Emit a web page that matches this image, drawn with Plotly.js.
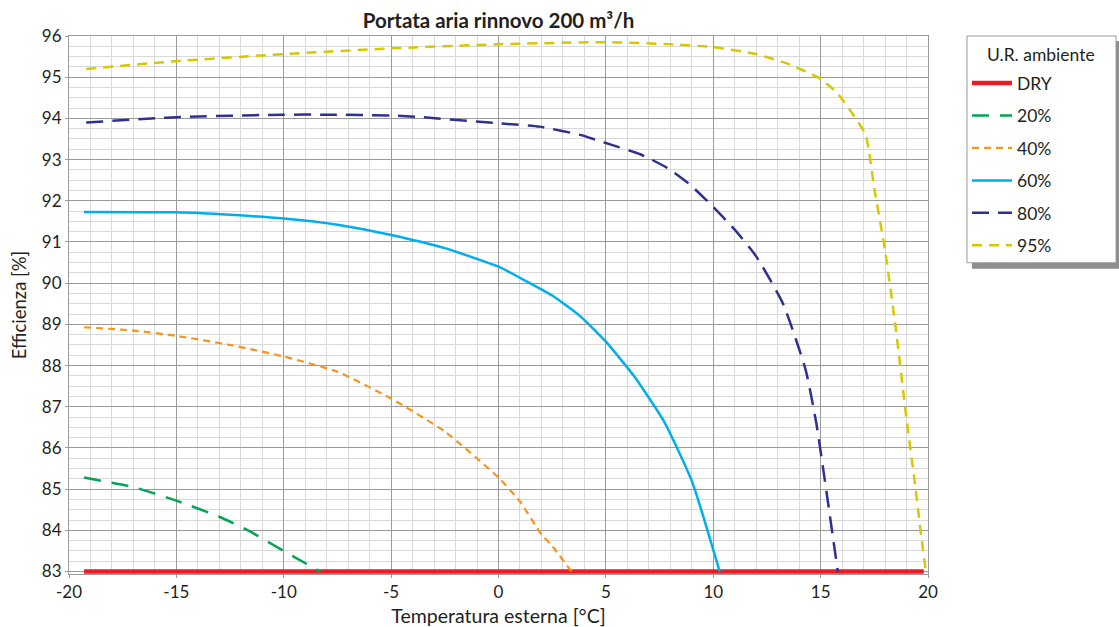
<!DOCTYPE html>
<html>
<head>
<meta charset="utf-8">
<script src="https://cdn.plot.ly/plotly-3.0.1.min.js"></script>
<style>html,body{margin:0;padding:0;background:#fff}#chart{width:1119px;height:627px}</style>
</head>
<body>
<div id="chart"></div>
<script>
// Data
const seriesNames = ["DRY", "20%", "40%", "60%", "80%", "95%"];
const legendTitle = "U.R. ambiente";

const dryX = [-19.3, 19.8];
const dryY = [83.0, 83.0];

const rh20X = [-19.3, -17, -15, -13, -11.6, -10.5, -9.5, -8.3];
const rh20Y = [85.28, 85.05, 84.72, 84.33, 83.98, 83.65, 83.35, 83.0];

const rh40X = [-19.3, -17, -15, -12.5, -10, -7.5, -5, -2.5, 0, 1, 2, 2.5, 3.4];
const rh40Y = [88.93, 88.85, 88.72, 88.5, 88.22, 87.85, 87.2, 86.4, 85.28, 84.7, 83.9, 83.62, 83.0];

const rh60X = [-19.3, -15, -12.5, -10, -7.5, -5, -2.5, 0, 1, 2.5, 3.8, 5, 6.3, 7.7, 9, 10.3];
const rh60Y = [91.73, 91.72, 91.66, 91.57, 91.42, 91.17, 90.85, 90.4, 90.13, 89.7, 89.2, 88.58, 87.75, 86.65, 85.2, 83.0];

const rh80X = [-19.2, -15, -10, -7.8, -5, -3.6, 0, 1.9, 3.8, 5.2, 6.6, 7.85, 8.9, 10, 11, 12, 13.25, 14.3, 14.8, 15.2, 15.8];
const rh80Y = [93.9, 94.03, 94.09, 94.09, 94.07, 94.03, 93.88, 93.8, 93.6, 93.37, 93.13, 92.8, 92.4, 91.85, 91.3, 90.65, 89.5, 87.9, 86.6, 85.2, 83.0];

const rh95X = [-19.2, -15, -10, -5, 0, 5, 8, 10, 12, 13.5, 15, 15.8, 16.5, 17.1, 17.5, 18, 18.5, 19, 19.4, 19.7, 19.9];
const rh95Y = [95.2, 95.39, 95.56, 95.7, 95.8, 95.85, 95.8, 95.73, 95.56, 95.32, 94.96, 94.6, 94.1, 93.6, 92.3, 90.8, 88.9, 86.7, 85.1, 83.8, 83.0];

const xTickVals = [-20, -15, -10, -5, 0, 5, 10, 15, 20];
const yTickVals = [83, 84, 85, 86, 87, 88, 89, 90, 91, 92, 93, 94, 95, 96];

const FONT = "Lato, 'Noto Sans', sans-serif";
const TXT = "#231f20";

function tr(x, y, name, color, dash, width) {
  return {
    x: x, y: y, name: name, legendgroup: name, type: "scatter", mode: "lines",
    line: {color: color, dash: dash, width: width, shape: "spline", smoothing: 0.5},
    cliponaxis: false
  };
}

const traces = [
  tr(dryX, dryY, seriesNames[0], "#ed1c24", "solid", 4.5),
  tr(rh20X, rh20Y, seriesNames[1], "#00a651", "17px,11px", 2.5),
  tr(rh40X, rh40Y, seriesNames[2], "#f7941d", "7px,5px", 2.2),
  tr(rh60X, rh60Y, seriesNames[3], "#00aeef", "solid", 2.5),
  tr(rh80X, rh80Y, seriesNames[4], "#2e3192", "17px,9px", 2.5),
  tr(rh95X, rh95Y, seriesNames[5], "#d7c800", "10px,7px", 2.5)
];

const layout = {
  width: 1119, height: 627,
  margin: {l: 69, r: 191, t: 36, b: 52.5},
  paper_bgcolor: "#ffffff", plot_bgcolor: "#ffffff",
  font: {family: FONT, color: TXT, size: 16},
  title: {text: "<b>Portata aria rinnovo 200 m³/h</b>", font: {family: FONT, size: 20.5, color: TXT},
          x: 0.4455, xanchor: "center", y: 0.966, yanchor: "middle"},
  showlegend: true,
  legend: {
    x: 1.0454, xanchor: "left", y: 0.9458, yanchor: "top",
    bgcolor: "rgba(0,0,0,0)", borderwidth: 0,
    font: {size: 17.5, family: FONT, color: TXT},
    tracegroupgap: 6.7,
    itemwidth: 40
  },
  annotations: [
    {text: legendTitle, xref: "paper", yref: "paper", x: 1.1321, y: 0.9647,
     xanchor: "center", yanchor: "middle", showarrow: false,
     font: {size: 17.5, family: FONT, color: TXT}}
  ],
  xaxis: {
    range: [-20, 20], tickvals: xTickVals, ticktext: xTickVals.map(String),
    showgrid: true, gridcolor: "#9a9a9a", gridwidth: 1,
    minor: {dtick: 1, showgrid: true, gridcolor: "#d9d9d9", gridwidth: 1, ticks: ""},
    showline: true, linecolor: "#9a9a9a", linewidth: 1, mirror: true,
    ticks: "outside", ticklen: 3, tickcolor: "#9a9a9a",
    zeroline: false, tickfont: {size: 17, family: FONT, color: TXT},
    title: {text: "Temperatura esterna [°C]", font: {size: 19.5, family: FONT, color: TXT}, standoff: 8}
  },
  yaxis: {
    range: [82.94, 96], tickvals: yTickVals, ticktext: yTickVals.map(String),
    showgrid: true, gridcolor: "#9a9a9a", gridwidth: 1,
    minor: {dtick: 0.25, showgrid: true, gridcolor: "#d9d9d9", gridwidth: 1, ticks: ""},
    showline: true, linecolor: "#9a9a9a", linewidth: 1, mirror: true,
    ticks: "outside", ticklen: 3, tickcolor: "#9a9a9a",
    zeroline: false, tickfont: {size: 17, family: FONT, color: TXT},
    title: {text: "Efficienza [%]", font: {size: 18.5, family: FONT, color: TXT}, standoff: 10}
  },
  shapes: [
    {type: "rect", xref: "paper", yref: "paper", x0: 1.0512, x1: 1.2258, y0: 0.5673, y1: 0.9907,
     fillcolor: "#8e8e8e", line: {width: 0}, layer: "above"},
    {type: "rect", xref: "paper", yref: "paper", x0: 1.0454, x1: 1.2189, y0: 0.5785, y1: 1.0,
     fillcolor: "#ffffff", line: {width: 1, color: "#999999"}, layer: "above"}
  ]
};

Plotly.newPlot("chart", traces, layout, {displayModeBar: false, staticPlot: true});
</script>
</body>
</html>
